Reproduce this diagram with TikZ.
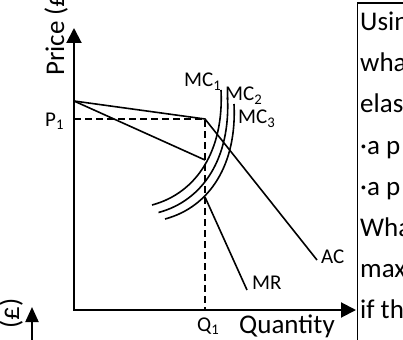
\documentclass[tikz,border=0pt]{standalone}
\usepackage{fontspec}
\setmainfont{Carlito}
\usetikzlibrary{arrows.meta}
\begin{document}
\begin{tikzpicture}[x=1pt,y=-1pt,
  curve/.style={line width=1.6pt},
  axis/.style={line width=2pt, {Triangle[length=15pt,width=15pt]}-{Triangle[length=15pt,width=15pt]}},
  guide/.style={line width=1.5pt, dash pattern=on 7pt off 4pt},
  lbl/.style={inner sep=0pt, anchor=base west, font=\fontsize{21}{25}\selectfont},
  axlbl/.style={inner sep=0pt, font=\fontsize{27}{32}\selectfont},
  boxtxt/.style={inner sep=0pt, anchor=base west, font=\fontsize{27}{32}\selectfont}]
\useasboundingbox (0,0) rectangle (403,339);
\clip (0,0) rectangle (403,339);
% key points
\coordinate (ytop) at (74,28);
\coordinate (O) at (74,310);
\coordinate (xend) at (356,310);
\coordinate (A) at (74,101);
\coordinate (K) at (205,119);
\coordinate (ACend) at (317,260);
\coordinate (MRk) at (205,160);
\coordinate (MRl) at (205,197);
\coordinate (MRend) at (247,290);
\coordinate (P1) at (74,119);
\coordinate (Q1) at (205,310);
% guides
\draw[guide] (P1) -- (K) -- (Q1);
% axes
\draw[axis,line join=miter] (ytop) -- (O) -- (xend);
% AC and MR
\draw[curve] (A) -- (K) -- (ACend);
\draw[curve] (A) -- (MRk);
\draw[curve] (MRl) -- (MRend);
% MC curves
\foreach \dx/\dy in {0/0, 6.5/7.5, 13/14}{
  \draw[curve, shift={(\dx,\dy)}] (152,205) .. controls (197,193) and (224,150) .. (221,90);
}
% labels
\node[lbl] (mc1) at (184,87) {MC\textsubscript{1}};
\node[lbl] (mc2) at (225,101) {MC\textsubscript{2}};
\node[lbl] (mc3) at (238,124) {MC\textsubscript{3}};
\node[lbl] (ac) at (321,263) {AC};
\node[lbl] (mr) at (252,289) {MR};
\node[lbl] (p1) at (45,126) {P\textsubscript{1}};
\node[lbl] (q1) at (197,331) {Q\textsubscript{1}};
\node[axlbl, anchor=base west] (qty) at (239,333) {Quantity};
\node[axlbl, anchor=base west, rotate=90] (price) at (64,76) {Price (£)};
% fragment of neighbouring graph
\node[axlbl, anchor=base east, rotate=90] (pound) at (19,298) {(£)};
\coordinate (n2tip) at (32,307);
\coordinate (n2base) at (32,345);
\draw[line width=2pt, -{Triangle[length=15pt,width=13pt]}] (n2base) -- (n2tip);
% question box
\draw[line width=1.8pt] (420,3) -- (357.5,3) -- (357.5,350);
\node[boxtxt] (t1) at (360,31) {Using};
\node[boxtxt] (t2) at (360,72) {what};
\node[boxtxt] (t3) at (360,113) {elast};
\node[boxtxt] (t4) at (360,154) {·a p};
\node[boxtxt] (t5) at (360,195) {·a p};
\node[boxtxt] (t6) at (360,236) {What};
\node[boxtxt] (t7) at (360,277) {max};
\node[boxtxt] (t8) at (360,318) {if th};
\end{tikzpicture}
\end{document}
